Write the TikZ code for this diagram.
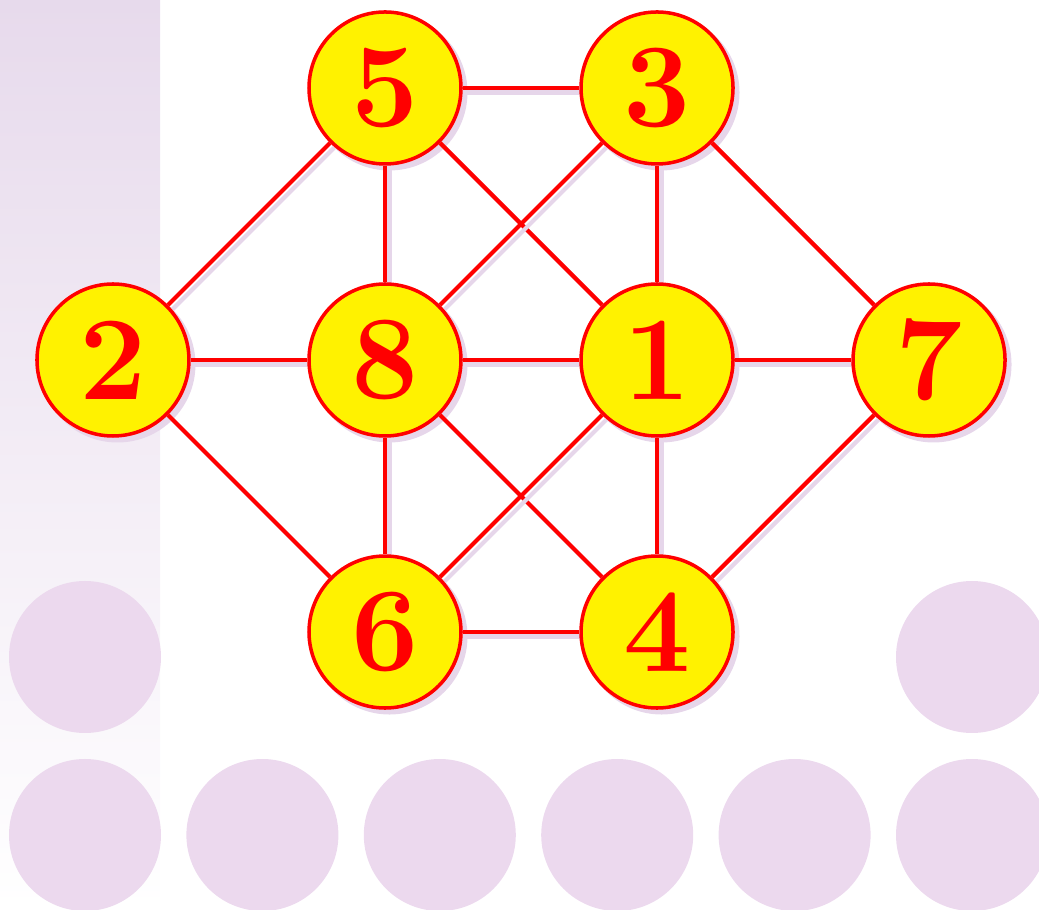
\documentclass[tikz,border=0pt]{standalone}
\usetikzlibrary{positioning, backgrounds}

\definecolor{shadowpurple}{HTML}{E6D6EA}
\definecolor{dotpurple}{HTML}{ECD9EE}
\definecolor{strippurple}{HTML}{E7DAEC}

\begin{document}
\begin{tikzpicture}[
        node distance=1.165cm,
        vertex/.style={circle, draw=red, line width=1pt, fill=yellow, minimum size=1.52cm, inner sep=0pt,
                       text=red, font=\fontsize{34}{40}\selectfont\bfseries},
        link/.style={draw=red, line width=1.2pt,
                     preaction={draw=shadowpurple, line width=1.2pt, transform canvas={shift={(0.045,-0.045)}}}}
    ]
        \useasboundingbox (0,0) rectangle (10.39,9.09);

        % Background decoration
        \begin{scope}[on background layer]
            \shade[top color=strippurple, bottom color=white] (0,0) rectangle (1.6,9.09);
            \foreach \i in {0,...,5}
                \fill[dotpurple] (0.85+1.774*\i,0.74) circle (0.76);
            \fill[dotpurple] (0.85,2.52) circle (0.76);
            \fill[dotpurple] (9.72,2.52) circle (0.76);
        \end{scope}

        % Nodes
        \node[vertex] (v8) at (3.85,5.49) {8};
        \node[vertex, right=of v8] (v1) {1};
        \node[vertex, right=of v1] (v7) {7};
        \node[vertex, left=of v8] (v2) {2};
        \node[vertex, above=of v8] (v5) {5};
        \node[vertex, above=of v1] (v3) {3};
        \node[vertex, below=of v8] (v6) {6};
        \node[vertex, below=of v1] (v4) {4};

        % Shadows and edges
        \begin{scope}[on background layer]
            \foreach \n in {v1,v2,v3,v4,v5,v6,v7,v8}
                \fill[shadowpurple] ([shift={(0.045,-0.045)}]\n.center) circle (0.78);
            \foreach \a/\b in {v5/v3, v5/v2, v5/v8, v5/v1, v3/v8, v3/v1, v3/v7, v2/v8, v2/v6,
                               v8/v1, v8/v6, v8/v4, v1/v7, v1/v6, v1/v4, v7/v4, v6/v4}
                \draw[link] (\a) -- (\b);
        \end{scope}

    \end{tikzpicture}
\end{document}
